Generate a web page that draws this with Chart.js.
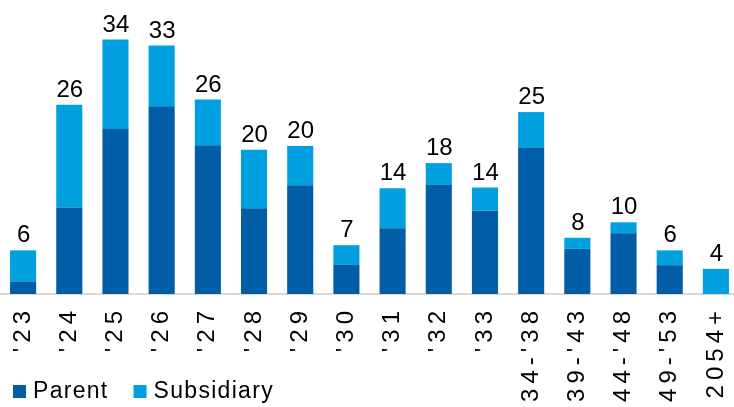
<!DOCTYPE html>
<html>
<head>
<meta charset="utf-8">
<script src="https://cdn.jsdelivr.net/npm/chart.js@4.4.1/dist/chart.umd.min.js"></script>
<style>
  html, body { margin: 0; padding: 0; background: #ffffff; overflow: hidden; }
  #wrap { width: 734px; height: 407px; position: relative; overflow: hidden; }
  #c { display: block; }
</style>
</head>
<body>
<div id="wrap"><canvas id="c" width="739" height="407"></canvas></div>
<script>
// ---- data ----
const categories = ["'23", "'24", "'25", "'26", "'27", "'28", "'29", "'30", "'31", "'32", "'33", "34-'38", "39-'43", "44-'48", "49-'53", "2054+"];
const parentValues = [1.7, 11.7, 22.3, 25.4, 20.1, 11.6, 14.7, 4.0, 8.9, 14.8, 11.3, 19.8, 6.1, 8.2, 3.9, 0];
const subsidiaryValues = [4.2, 13.9, 12.1, 8.2, 6.2, 7.9, 5.3, 2.6, 5.4, 2.9, 3.1, 4.8, 1.5, 1.5, 2.0, 3.4];
const totalLabels = ["6", "26", "34", "33", "26", "20", "20", "7", "14", "18", "14", "25", "8", "10", "6", "4"];
const seriesNames = ["Parent", "Subsidiary"];

const COLORS = { parent: '#005DA6', subsidiary: '#00A0E0', axis: '#D9D9D9', text: '#000000' };
const FONT = "'Liberation Sans', Arial, sans-serif";
const TICK_SPACING = '5px';

const spacingPlugin = {
  id: 'spacing',
  beforeUpdate(chart) { chart.ctx.letterSpacing = TICK_SPACING; },
  beforeDraw(chart) { chart.ctx.letterSpacing = TICK_SPACING; }
};

const totalsPlugin = {
  id: 'totals',
  afterDatasetsDraw(chart) {
    const ctx = chart.ctx;
    const metaTop = chart.getDatasetMeta(1);
    const metaBottom = chart.getDatasetMeta(0);
    ctx.save();
    ctx.letterSpacing = '0px';
    ctx.font = '24px ' + FONT;
    ctx.fillStyle = COLORS.text;
    ctx.textAlign = 'center';
    ctx.textBaseline = 'alphabetic';
    totalLabels.forEach((lab, i) => {
      const el = metaTop.data[i];
      const el0 = metaBottom.data[i];
      const top = Math.min(el.y, el0.y);
      ctx.fillText(lab, el.x + 0.5, top - 8);
    });
    ctx.restore();
  }
};

const legendPlugin = {
  id: 'customLegend',
  afterDraw(chart) {
    const ctx = chart.ctx;
    ctx.save();
    ctx.letterSpacing = '1.3px';
    ctx.font = '23px ' + FONT;
    ctx.textBaseline = 'alphabetic';
    ctx.textAlign = 'left';
    let x = 13;
    const boxY = 385, boxS = 13, baseY = 398;
    chart.data.datasets.forEach((ds) => {
      ctx.fillStyle = ds.backgroundColor;
      ctx.fillRect(x, boxY, boxS, boxS);
      ctx.fillStyle = COLORS.text;
      const tx = x + boxS + 7;
      ctx.fillText(ds.label, tx, baseY);
      x = tx + ctx.measureText(ds.label).width + 25;
    });
    ctx.restore();
  }
};

new Chart(document.getElementById('c'), {
  type: 'bar',
  data: {
    labels: categories,
    datasets: [
      { label: seriesNames[0], data: parentValues, backgroundColor: COLORS.parent, borderWidth: 0,
        barPercentage: 0.565, categoryPercentage: 1.0 },
      { label: seriesNames[1], data: subsidiaryValues, backgroundColor: COLORS.subsidiary, borderWidth: 0,
        barPercentage: 0.565, categoryPercentage: 1.0 }
    ]
  },
  options: {
    responsive: false,
    animation: false,
    devicePixelRatio: 1,
    layout: { padding: { top: 13, right: 0, left: 0, bottom: 0 } },
    plugins: {
      legend: { display: false },
      tooltip: { enabled: false },
      title: { display: false }
    },
    scales: {
      x: {
        stacked: true,
        offset: true,
        grid: { display: false, drawTicks: false },
        border: { display: true, color: COLORS.axis, width: 2 },
        ticks: {
          autoSkip: false,
          minRotation: 90,
          maxRotation: 90,
          padding: 12,
          color: COLORS.text,
          font: { family: FONT, size: 24 }
        },
        afterFit(scale) {
          scale.height = 113;
          scale.paddingLeft = 0;
          scale.paddingRight = 0;
        }
      },
      y: {
        stacked: true,
        display: false,
        min: 0,
        max: 38
      }
    }
  },
  plugins: [spacingPlugin, totalsPlugin, legendPlugin]
});
</script>
</body>
</html>
